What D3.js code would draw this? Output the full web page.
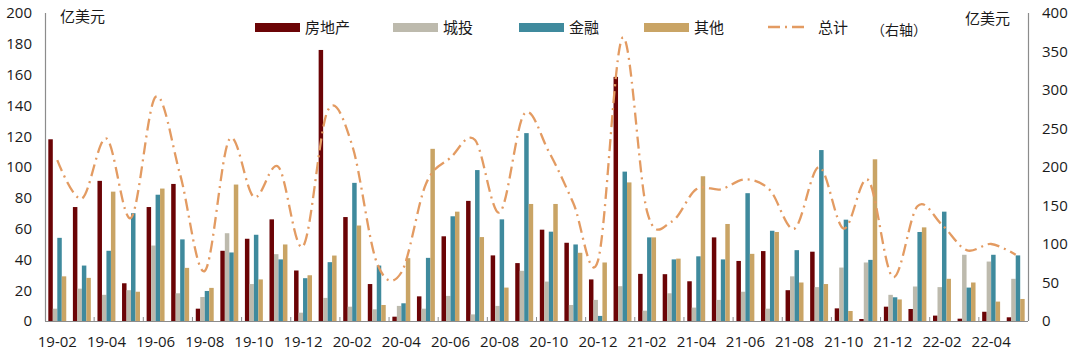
<!DOCTYPE html>
<html>
<head>
<meta charset="utf-8">
<script src="https://cdn.jsdelivr.net/npm/d3@7"></script>
<style>
  body { margin:0; background:#fff; }
  svg text { font-family: "Open Sans", "Noto Sans CJK SC", sans-serif; fill:#1a1a1a; }
</style>
</head>
<body>
<svg id="chart"></svg>
<script>
// months, 19-02 .. 22-05
var months = ["19-02","19-03","19-04","19-05","19-06","19-07","19-08","19-09","19-10","19-11","19-12",
              "20-01","20-02","20-03","20-04","20-05","20-06","20-07","20-08","20-09","20-10","20-11","20-12",
              "21-01","21-02","21-03","21-04","21-05","21-06","21-07","21-08","21-09","21-10","21-11","21-12",
              "22-01","22-02","22-03","22-04","22-05"];

var seriesNames = ["房地产","城投","金融","其他"];

var realEstate = [118,74,91,24.5,74,89,8,45.6,53.4,66,32.8,176,67.5,24,2.8,16,55,78,42.6,37.6,59.3,50.8,27,158.5,
                  30.6,30.4,25.8,54.3,39,45.4,20,45,8.2,1.3,9.3,7.8,3.5,1.5,6,2.4];
var lgfv = [8,21,17,20,49,18,15.6,57,24,43.4,5.4,15,9.3,7.6,9.8,8,16.3,4.3,9.8,32.6,25.6,10.4,13.7,22.6,
            6.7,18,8.7,13.7,19,8,29,22,34.7,38,17,22.4,22,43,38.6,27.4];
var finance = [54,36,45.6,70,82,53,19.5,44.5,56,40,27.8,38.2,89.7,36,11.5,41,68,98,66,122,58,49.7,3.3,97,
               54.3,40,42,40,83,58.6,46,111,65.8,39.7,15.4,57.8,71,21.7,43,42.6];
var others = [29,28,84,19,86,34.5,21.5,88.6,27,49.7,29.7,42.5,62,10.4,40.8,111.8,71,54.5,21.7,76,76,44.3,38,90,
              54.3,40.5,94,63,43.6,57.8,25,24,6.5,105,14,60.8,27.4,25,12.6,14.3];
// 总计, right axis
var total = [209,159,237,134,291,190,65,236,161,200,97,273,228,76,63,178,212,235,141,269,220,153,78,368,
             142,129,171,171,184,170,120,200,120,183,57,149,125,92,100,86];

var leftTicks = [0,20,40,60,80,100,120,140,160,180,200];
var rightTicks = [0,50,100,150,200,250,300,350,400];

var colors = ["#6b0406","#bdbaad","#3f8a9d","#c9a465"];
var lineColor = "#e39b62";

var screen = {width:1080, height:354};
var plot = {left:45, right:1028, top:13, bottom:321};

var svg = d3.select("#chart")
            .attr("width",screen.width)
            .attr("height",screen.height)
            .style("display","block");

var table = months.map(function(m,i){
  return {month:m, values:[realEstate[i],lgfv[i],finance[i],others[i]], total:total[i]};
});

//scales
var xScale = d3.scaleBand()
               .domain(months)
               .range([plot.left,plot.right])
               .paddingInner(0.27)
               .paddingOuter(0.135);
var x1 = d3.scaleBand()
           .domain(d3.range(4))
           .range([0,xScale.bandwidth()]);
var yLeft = d3.scaleLinear().domain([0,200]).range([plot.bottom,plot.top]);
var yRight = d3.scaleLinear().domain([0,400]).range([plot.bottom,plot.top]);

//bars
var groups = svg.append("g").classed("bars",true)
                .selectAll("g")
                .data(table)
                .enter()
                .append("g")
                .attr("transform",function(d){return "translate("+xScale(d.month)+",0)";});

groups.selectAll("rect")
      .data(function(d){return d.values})
      .enter()
      .append("rect")
      .attr("x",function(d,i){return x1(i)})
      .attr("width",x1.bandwidth())
      .attr("y",function(d){return yLeft(d)})
      .attr("height",function(d){return yLeft(0)-yLeft(d)})
      .attr("fill",function(d,i){return colors[i]});

//axes
var step = xScale.step();
var axisColor = "#8c8c8c";
svg.append("line")
   .attr("x1",plot.left).attr("x2",plot.right)
   .attr("y1",plot.bottom+0.5).attr("y2",plot.bottom+0.5)
   .attr("stroke",axisColor).attr("stroke-width",1.2);
svg.append("line")
   .attr("x1",plot.left+0.5).attr("x2",plot.left+0.5)
   .attr("y1",plot.top).attr("y2",plot.bottom)
   .attr("stroke",axisColor).attr("stroke-width",1.2);
svg.append("line")
   .attr("x1",plot.right+0.5).attr("x2",plot.right+0.5)
   .attr("y1",plot.top).attr("y2",plot.bottom)
   .attr("stroke",axisColor).attr("stroke-width",1.2);

// small ticks every 2 months
svg.append("g").selectAll("line")
   .data(months.filter(function(d,i){return i>0 && i%2==0}))
   .enter()
   .append("line")
   .attr("x1",function(d){return xScale(d)-xScale.step()*xScale.paddingInner()/2})
   .attr("x2",function(d){return xScale(d)-xScale.step()*xScale.paddingInner()/2})
   .attr("y1",plot.bottom-4).attr("y2",plot.bottom)
   .attr("stroke",axisColor);

var xAxis = d3.axisBottom(xScale)
              .tickValues(months.filter(function(d,i){return i%2==0}))
              .tickSize(0)
              .tickPadding(15);
var xg = svg.append("g").classed("xAxis",true)
            .attr("transform","translate(0,"+plot.bottom+")")
            .call(xAxis);
xg.select(".domain").remove();
xg.selectAll("text").style("font-size","15px");

var yAxisL = d3.axisLeft(yLeft).tickValues(leftTicks).tickSize(0).tickPadding(13);
var ylg = svg.append("g").attr("transform","translate("+plot.left+",0)").call(yAxisL);
ylg.select(".domain").remove();
ylg.selectAll("text").style("font-size","15px");

var yAxisR = d3.axisRight(yRight).tickValues(rightTicks).tickSize(0).tickPadding(14);
var yrg = svg.append("g").attr("transform","translate("+plot.right+",0)").call(yAxisR);
yrg.select(".domain").remove();
yrg.selectAll("text").style("font-size","15px");

//total line
var line = d3.line()
             .x(function(d){return xScale(d.month)+xScale.bandwidth()/2})
             .y(function(d){return yRight(d.total)})
             .curve(d3.curveCardinal.tension(0));
svg.append("path")
   .datum(table)
   .attr("d",line)
   .attr("fill","none")
   .attr("stroke",lineColor)
   .attr("stroke-width",2.3)
   .attr("stroke-dasharray","12,5,2,5");

//units
svg.append("text").attr("x",60).attr("y",22).style("font-size","15px").text("亿美元");
svg.append("text").attr("x",965).attr("y",24).style("font-size","15px").text("亿美元");

//legend
var legendX = [255,393,519,644];
var legend = svg.append("g").classed("legend",true);
var legendLines = legend.selectAll("g")
                        .data(seriesNames)
                        .enter()
                        .append("g")
                        .attr("transform",function(d,i){return "translate("+legendX[i]+",23)";});
legendLines.append("rect")
           .attr("x",0).attr("y",0)
           .attr("width",45).attr("height",9)
           .attr("fill",function(d,i){return colors[i]});
legendLines.append("text")
           .attr("x",50).attr("y",10)
           .style("font-size","15px")
           .text(function(d){return d});

var totalLegend = legend.append("g").attr("transform","translate(768,27)");
totalLegend.append("line")
           .attr("x1",0).attr("x2",38).attr("y1",0).attr("y2",0)
           .attr("stroke",lineColor).attr("stroke-width",2.3)
           .attr("stroke-dasharray","12,5,2,5");
totalLegend.append("text").attr("x",50).attr("y",6).style("font-size","15px").text("总计");
totalLegend.append("text").attr("x",103).attr("y",8).style("font-size","14px").text("（右轴）");
</script>
</body>
</html>
